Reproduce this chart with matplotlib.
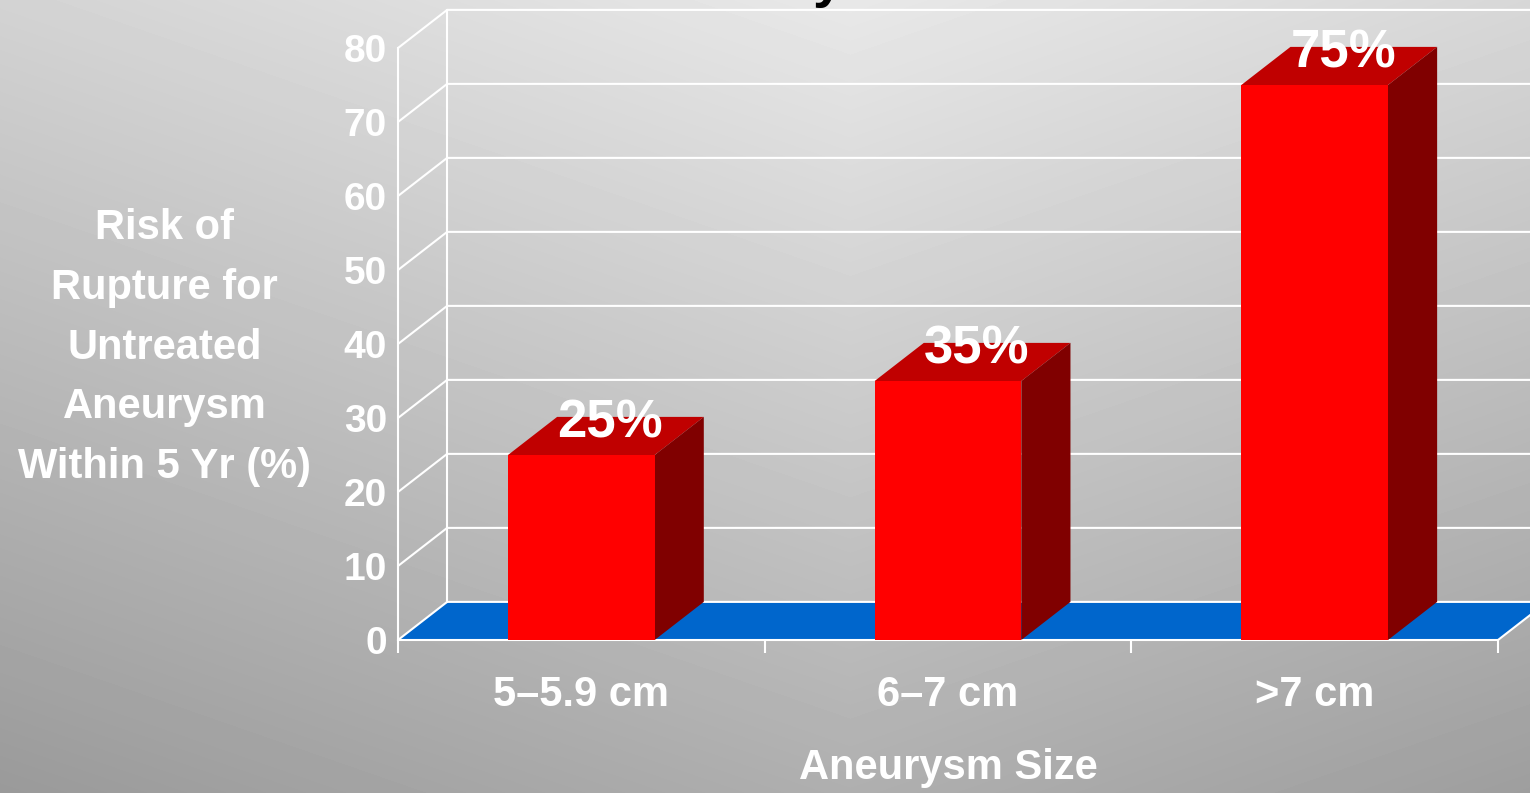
import numpy as np
import matplotlib
matplotlib.use("Agg")
import matplotlib.pyplot as plt
from matplotlib.patches import Polygon

# ── Data ───────────────────────────────────────────────────────────
sizes = ["5–5.9 cm", "6–7 cm", ">7 cm"]
risk = [25, 35, 75]
yticks = list(range(0, 90, 10))

# ── Style ──────────────────────────────────────────────────────────
FONT = "Liberation Sans"
RED_FRONT = "#ff0000"
RED_TOP = "#c00000"
RED_SIDE = "#800000"
FLOOR = "#0066cc"
DX, DY = 0.134, 5.15      # 3D depth offset (category units, value units)
W = 0.4                   # bar width

plt.rcParams["font.family"] = FONT

fig = plt.figure(figsize=(15.3, 7.93), dpi=100)

# gradient backdrop
bg = fig.add_axes([0, 0, 1, 1])
yy, xx = np.mgrid[0:793, 0:1530]
shade = 232 - 0.072 * yy - 0.025 * np.abs(xx - 850)
shade = np.clip(shade, 150, 235) / 255.0
bg.imshow(shade, cmap="gray", vmin=0, vmax=1, aspect="auto")
bg.axis("off")

ax = fig.add_axes([398 / 1530, 153 / 793, 1100 / 1530, 592 / 793])
ax.set_zorder(1)
ax.patch.set_visible(False)
n = len(sizes)
ax.set_xlim(0, n)
ax.set_ylim(0, 80)

# floor
ax.add_patch(Polygon([(0, 0), (n, 0), (n + DX, DY), (DX, DY)],
                     closed=True, facecolor=FLOOR, edgecolor="none",
                     zorder=1, clip_on=False))

# side + back wall gridlines
for v in yticks:
    ax.plot([0, DX, n + DX], [v, v + DY, v + DY], color="white", lw=1.5,
            zorder=2, clip_on=False, solid_capstyle="butt")
ax.plot([DX, DX], [DY, 80 + DY], color="white", lw=1.5, zorder=2, clip_on=False)
ax.plot([n, n + DX], [0, DY], color="white", lw=1.5, zorder=2, clip_on=False)

# bars
x = np.arange(n) + 0.5
ax.bar(x, risk, width=W, color=RED_FRONT, edgecolor="none", zorder=4)
for xc, v in zip(x, risk):
    x0, x1 = xc - W / 2, xc + W / 2
    ax.add_patch(Polygon([(x0, v), (x1, v), (x1 + DX, v + DY), (x0 + DX, v + DY)],
                         closed=True, facecolor=RED_TOP, edgecolor="none",
                         zorder=3, clip_on=False))
    ax.add_patch(Polygon([(x1, 0), (x1 + DX, DY), (x1 + DX, v + DY), (x1, v)],
                         closed=True, facecolor=RED_SIDE, edgecolor="none",
                         zorder=3, clip_on=False))
    ax.text(xc + DX * 0.58, v + 2.4, f"{v}%", ha="center", va="baseline",
            fontsize=38, fontweight="bold", color="white", zorder=5,
            clip_on=False)

# axes frame
for s in ["top", "right"]:
    ax.spines[s].set_visible(False)
for s in ["left", "bottom"]:
    ax.spines[s].set_color("white")
    ax.spines[s].set_linewidth(1.5)
    ax.spines[s].set_zorder(2.5)

ax.set_yticks(yticks)
ax.set_yticklabels([str(t) for t in yticks])
ax.set_xticks(x)
ax.set_xticklabels(sizes)
ax.set_xticks(np.arange(n + 1), minor=True)
ax.tick_params(axis="y", length=0, pad=8, labelsize=28, labelcolor="white")
ax.tick_params(axis="x", which="major", length=0, pad=25, labelsize=30,
               labelcolor="white")
ax.tick_params(axis="x", which="minor", length=9, width=1.5, color="white",
               direction="out")
for lbl in ax.get_xticklabels() + ax.get_yticklabels():
    lbl.set_fontweight("bold")

ax.set_xlabel("Aneurysm Size", fontsize=30, fontweight="bold", color="white",
              va="center")
ax.xaxis.set_label_coords(0.5, -0.216)
ax.set_ylabel("Risk of\nRupture for\nUntreated\nAneurysm\nWithin 5 Yr (%)",
              rotation=0, fontsize=30, fontweight="bold", color="white",
              ha="center", va="center", multialignment="center",
              linespacing=1.63)
ax.yaxis.set_label_coords(-0.212, 0.494)

# cropped slide title (only the descender is visible)
fig.text(828 / 1530, 1 + 4 / 793, "y", ha="center", va="baseline",
         fontsize=40, fontweight="bold", color="black")

plt.savefig("out.png", dpi=100)
plt.close()
